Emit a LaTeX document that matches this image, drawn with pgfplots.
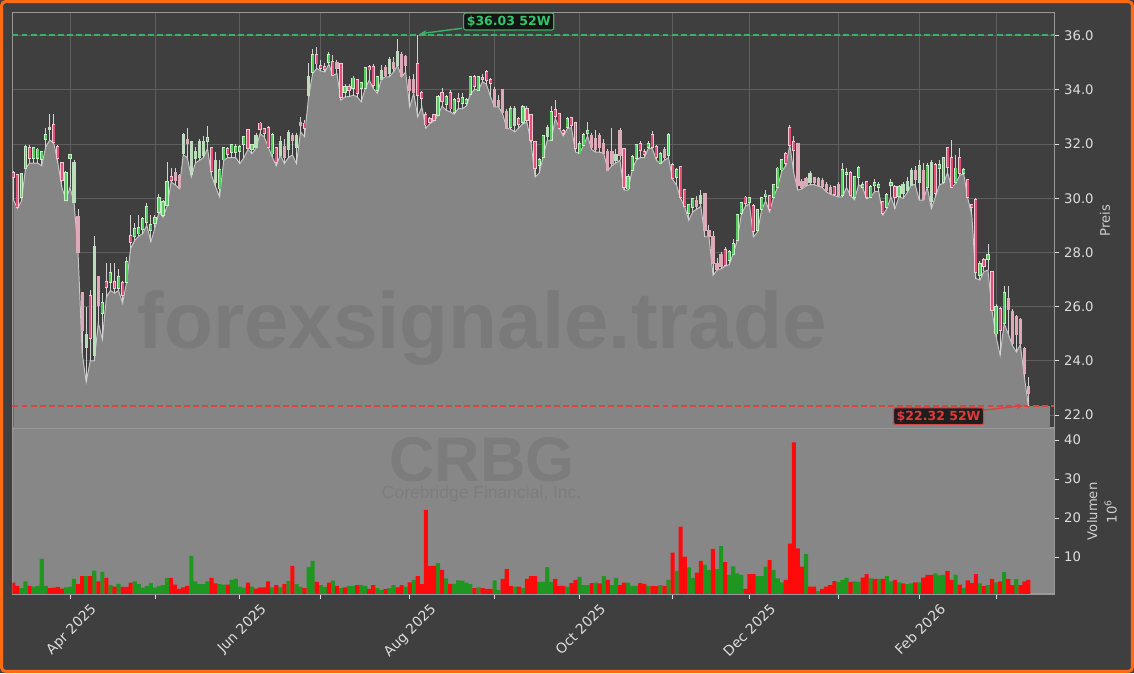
\documentclass[border=0pt]{standalone}
\usepackage{pgfplots}
\pgfplotsset{compat=1.18}
\usepackage{pgfplotstable}
\usepackage{fontspec}
\setmainfont{DejaVu Sans}
\newfontfamily\wmfont{Liberation Sans}
\usetikzlibrary{arrows.meta}

\definecolor{bgc}{HTML}{3F3F3F}
\definecolor{framec}{HTML}{FF6A13}
\definecolor{fillg}{HTML}{858585}
\definecolor{volbg}{HTML}{878787}
\definecolor{gridc}{HTML}{5E5E5E}
\definecolor{spine}{HTML}{999999}
\definecolor{tickc}{HTML}{DEDEDE}
\definecolor{labc}{HTML}{CFCFCF}
\definecolor{upc}{HTML}{55D060}
\definecolor{upo}{HTML}{C8EEC8}
\definecolor{dnc}{HTML}{E2507A}
\definecolor{dno}{HTML}{F4C8D2}
\definecolor{upp}{HTML}{BCDDBC}
\definecolor{dnp}{HTML}{DFAAB8}
\definecolor{wick}{HTML}{D2D2D2}
\definecolor{linec}{HTML}{C6C6C6}
\definecolor{vgreen}{HTML}{1F961F}
\definecolor{vred}{HTML}{FF0A0A}
\definecolor{hic}{HTML}{3FAF68}
\definecolor{hit}{HTML}{35C46E}
\definecolor{loc}{HTML}{D64545}
\definecolor{lot}{HTML}{E03A3A}

\pgfplotstableread{
i t b h l k v g
0 30.95 30.80 31.0 29.95 2 3.4 0
1 30.85 29.67 30.9 29.63 2 2.6 0
2 30.89 30.04 30.95 29.9 1 2.0 1
3 31.9 31.1 31.95 31.1 1 3.7 1
4 31.85 31.5 31.95 31.3 2 2.6 0
5 31.85 31.5 31.9 31.3 1 2.4 1
6 31.8 31.5 31.85 31.3 1 2.6 1
7 31.7 31.44 31.75 31.2 1 9.5 1
8 32.33 32.2 32.6 31.9 1 2.6 1
9 32.6 32.55 33.1 32.15 3 2.0 0
10 32.7 32.07 33.1 32.03 2 2.1 0
11 31.9 31.5 31.95 31.3 2 2.3 0
12 31.3 30.67 31.35 30.4 2 1.9 0
13 30.92 29.93 31.0 29.93 1 2.2 1
14 31.6 31.5 31.65 30.4 1 2.4 1
15 31.3 29.86 31.4 29.86 3 4.35 1
16 29.3 28.02 29.6 27.97 4 3.0 0
17 26.5 25.13 26.5 24.3 4 5.1 0
18 24.95 24.5 26.0 23.22 3 5.1 1
19 26.4 24.83 26.6 24.0 2 5.1 0
20 28.2 24.2 28.6 24.0 3 6.5 1
21 27.1 26.05 27.1 25.4 4 3.7 0
22 26.13 25.77 26.5 24.8 1 6.2 1
23 26.9 26.73 27.6 26.36 2 4.6 0
24 27.24 26.9 27.6 26.6 1 2.8 1
25 26.9 26.7 27.6 26.5 2 2.4 0
26 27.1 26.68 27.4 26.6 1 3.1 1
27 26.86 26.42 26.95 26.13 2 2.3 0
28 27.65 26.9 27.84 26.9 1 2.3 0
29 28.6 28.39 29.38 28.15 2 3.4 0
30 28.86 28.6 29.1 28.45 1 3.7 1
31 28.9 28.7 29.38 28.6 1 3.0 1
32 29.25 28.88 29.3 28.7 1 2.1 1
33 29.68 29.13 29.83 29.0 1 2.6 1
34 29.0 28.82 29.38 28.4 1 3.3 1
35 29.28 29.07 29.4 28.9 1 2.1 1
36 30.0 29.5 30.15 29.5 1 2.6 1
37 29.87 29.38 29.95 29.3 1 2.8 1
38 30.6 29.75 31.34 29.7 1 4.6 1
39 30.78 30.67 31.1 30.6 2 4.6 0
40 30.94 30.67 31.1 30.5 4 2.9 0
41 30.82 30.42 30.9 30.36 4 1.8 0
42 32.33 31.65 32.4 31.6 3 2.2 0
43 32.17 32.04 32.6 31.5 4 2.6 0
44 32.08 30.9 32.1 30.79 3 10.3 1
45 31.71 31.47 31.9 31.3 3 3.7 1
46 32.08 31.53 32.2 31.4 3 3.0 1
47 32.1 31.6 32.3 31.5 3 3.0 1
48 32.22 32.12 32.66 31.84 1 3.7 1
49 31.87 31.01 31.9 30.85 2 4.6 0
50 31.4 30.6 31.7 30.42 3 3.2 0
51 31.06 30.36 31.4 30.05 1 3.0 1
52 31.84 31.43 31.9 31.4 1 2.9 1
53 31.81 31.63 31.9 31.5 2 2.9 0
54 31.96 31.71 32.0 31.5 1 4.1 1
55 31.9 31.7 32.0 31.5 1 4.35 1
56 31.9 31.75 31.95 31.28 1 2.4 1
57 32.27 32.0 32.3 31.5 1 2.1 1
58 32.51 31.84 32.55 31.8 2 3.4 0
59 31.95 31.8 32.0 31.65 1 2.4 1
60 32.3 31.9 32.4 31.84 3 1.9 0
61 32.76 32.54 32.82 32.39 2 2.2 0
62 32.54 32.39 32.6 32.27 2 2.2 0
63 32.58 31.9 32.65 31.9 2 3.7 0
64 32.33 31.65 32.4 31.53 1 2.2 1
65 31.84 31.34 31.9 31.2 2 2.8 0
66 32.1 31.6 32.3 31.6 3 2.2 1
67 31.9 31.5 32.2 31.28 4 3.0 0
68 32.4 31.8 32.5 31.5 3 3.8 1
69 32.3 32.15 32.4 31.6 4 7.7 0
70 32.3 31.9 32.4 31.28 3 3.0 1
71 32.8 32.7 33.0 32.45 4 2.3 1
72 32.76 32.58 32.9 32.27 2 2.0 0
73 34.48 33.8 35.0 33.74 3 7.4 1
74 35.28 34.66 35.49 34.6 1 9.0 1
75 35.28 34.97 35.59 34.79 2 3.6 0
76 34.89 34.79 35.1 34.7 2 2.8 1
77 34.85 34.78 35.0 34.66 2 2.3 1
78 35.28 35.03 35.4 34.95 1 3.4 0
79 35.03 34.54 35.3 34.54 2 3.9 1
80 35.0 34.8 35.1 34.6 4 2.6 0
81 34.95 33.74 34.95 33.62 2 2.0 1
82 34.09 33.93 34.2 33.74 1 2.2 0
83 34.1 34.0 34.2 33.75 2 2.6 1
84 34.42 34.05 34.5 33.8 1 2.6 1
85 34.36 33.87 34.4 33.75 2 2.8 0
86 34.25 34.05 34.3 33.56 1 2.8 1
87 34.79 34.05 34.85 34.05 1 2.6 1
88 34.85 34.75 34.9 34.36 2 1.8 0
89 34.85 34.17 34.95 34.05 2 2.8 0
90 34.46 33.99 34.5 33.87 1 2.0 1
91 34.7 34.4 34.9 34.4 3 1.5 1
92 34.8 34.55 34.9 34.48 4 1.8 0
93 35.1 34.6 35.2 34.48 3 2.0 1
94 35.0 34.8 35.2 34.66 4 2.8 1
95 35.4 34.91 35.86 34.9 3 2.2 0
96 35.3 34.5 35.4 34.48 4 2.8 0
97 35.2 34.9 35.3 34.66 4 2.4 1
98 34.36 33.99 34.5 33.37 4 3.5 0
99 34.36 33.9 34.6 33.87 4 4.1 1
100 34.94 33.8 36.03 33.0 2 5.1 0
101 33.87 33.7 33.95 33.37 2 3.0 0
102 33.07 32.72 33.2 32.58 2 22.1 0
103 32.92 32.82 33.0 32.76 2 7.7 0
104 33.07 32.88 33.1 32.85 2 7.7 0
105 33.74 33.07 33.8 33.07 1 8.4 1
106 33.87 33.6 34.05 33.4 2 6.7 0
107 33.74 33.47 33.8 33.25 1 4.5 1
108 33.89 33.31 34.0 33.19 2 3.1 0
109 33.62 33.19 33.7 33.1 1 3.1 1
110 33.66 33.6 33.9 33.31 2 4.0 1
111 33.7 33.53 33.9 33.3 1 3.9 1
112 33.62 33.5 33.7 33.4 1 3.4 1
113 34.46 33.84 34.5 33.84 1 3.0 1
114 34.46 34.14 34.55 34.01 2 2.0 0
115 34.46 34.0 34.5 34.0 1 2.2 1
116 34.44 34.4 34.6 34.3 2 2.0 0
117 34.66 34.36 34.73 34.2 2 1.8 0
118 34.38 34.24 34.45 33.74 2 1.8 0
119 34.0 33.4 34.1 33.37 4 4.0 1
120 33.6 33.4 33.8 33.37 4 1.5 1
121 33.99 33.19 34.0 33.1 4 4.4 0
122 33.2 32.6 33.3 32.58 4 6.9 0
123 33.31 32.64 33.4 32.55 1 2.6 0
124 33.3 32.7 33.4 32.45 3 2.4 1
125 32.92 32.73 33.0 32.6 2 2.4 0
126 33.37 32.82 33.45 32.75 1 2.0 1
127 33.31 32.88 33.4 32.8 2 4.4 0
128 33.09 32.14 33.1 32.05 2 5.1 0
129 32.08 31.1 32.1 30.79 2 5.1 0
130 31.41 31.22 31.5 30.92 1 3.6 1
131 32.29 31.53 32.3 31.53 1 3.6 1
132 32.6 32.3 32.7 32.14 3 7.4 1
133 33.19 32.14 33.4 32.14 1 3.6 1
134 33.25 33.03 33.62 32.95 2 4.4 0
135 33.1 32.58 33.15 32.58 2 2.6 0
136 32.48 32.39 32.55 32.3 2 2.6 0
137 32.92 32.64 33.0 32.58 1 2.4 1
138 32.95 32.7 33.0 32.6 2 3.3 0
139 32.78 31.84 32.8 31.71 2 4.1 0
140 32.02 31.65 32.1 31.65 1 4.9 1
141 32.33 31.96 32.4 31.96 1 2.8 1
142 32.48 32.39 32.8 32.3 1 2.8 1
143 32.3 31.9 32.4 31.8 4 3.3 0
144 32.2 31.8 32.5 31.7 4 3.4 1
145 32.3 31.9 32.4 31.7 4 3.2 0
146 32.0 31.65 32.2 31.65 4 5.1 1
147 31.7 31.04 31.8 31.04 4 4.1 0
148 31.7 31.3 32.58 31.2 4 2.8 1
149 31.6 31.4 31.8 31.3 3 4.6 1
150 32.5 31.6 32.6 31.4 4 2.8 0
151 31.81 30.4 31.85 30.3 2 3.4 0
152 30.79 30.36 30.9 30.3 1 3.4 1
153 31.53 31.04 31.6 31.04 1 2.6 1
154 31.96 31.47 32.0 31.41 1 2.6 1
155 32.02 31.77 32.1 31.5 2 3.3 0
156 31.71 31.63 31.8 31.5 2 3.1 0
157 32.02 31.9 32.1 31.84 1 2.6 1
158 32.35 31.9 32.49 31.84 2 2.5 0
159 31.9 31.53 31.95 31.4 2 2.5 0
160 31.62 31.3 31.7 31.28 1 2.8 1
161 31.8 31.5 31.9 31.4 4 2.6 0
162 32.33 31.59 32.4 31.5 1 4.1 1
163 31.22 30.73 31.3 30.7 2 11.1 0
164 31.04 30.79 31.1 30.48 1 6.4 1
165 31.16 30.05 31.2 29.99 2 17.8 0
166 30.3 29.71 30.35 29.68 2 10.1 0
167 29.75 29.44 29.8 29.19 1 7.3 1
168 29.96 29.68 30.0 29.5 1 4.6 1
169 29.9 29.7 30.1 29.6 4 6.0 0
170 30.1 29.8 30.32 29.7 3 9.0 0
171 30.18 28.82 30.2 28.58 4 8.0 1
172 28.8 28.6 29.0 28.58 4 6.7 1
173 28.58 27.59 28.8 27.16 4 12.1 0
174 27.6 27.4 27.8 27.35 4 6.9 1
175 27.9 27.5 28.0 27.4 4 12.8 1
176 28.08 27.53 28.2 27.5 2 8.7 0
177 28.02 27.72 28.1 27.55 1 5.4 1
178 28.33 27.96 28.5 27.96 1 7.6 1
179 29.38 28.45 29.4 28.45 1 5.8 1
180 29.81 29.46 29.85 29.4 1 5.4 1
181 30.03 29.81 30.1 29.7 2 1.8 0
182 30.0 29.85 30.05 29.8 1 5.6 0
183 29.71 28.8 29.8 28.58 2 5.6 0
184 29.56 28.82 29.6 28.75 1 5.1 1
185 30.0 29.6 30.05 29.56 1 5.1 1
186 30.14 30.09 30.3 29.9 1 7.5 1
187 30.08 29.59 30.1 29.5 2 9.2 0
188 30.48 30.05 30.5 30.05 1 6.7 1
189 31.1 30.42 31.15 30.42 1 4.5 1
190 31.41 31.06 31.45 31.0 1 3.5 1
191 31.63 31.3 31.7 31.2 2 4.1 0
192 32.58 31.96 32.7 31.96 2 13.4 0
193 32.08 31.77 32.3 30.92 2 39.4 0
194 32.0 30.5 32.0 30.3 4 12.2 0
195 30.6 30.4 30.7 30.35 4 7.5 0
196 30.7 30.5 30.8 30.45 4 10.8 1
197 30.9 30.6 31.0 30.5 3 2.4 0
198 30.75 30.6 30.8 30.5 4 2.4 0
199 30.7 30.5 30.8 30.45 4 1.3 1
200 30.65 30.45 30.75 30.4 4 1.8 0
201 30.5 30.3 30.6 30.24 4 2.4 0
202 30.4 30.2 30.5 30.15 4 2.8 0
203 30.4 30.15 30.45 30.1 2 3.8 0
204 30.5 30.1 30.6 30.05 4 3.6 1
205 31.06 30.11 31.3 30.05 1 4.1 1
206 30.95 30.9 31.1 30.4 1 4.6 1
207 30.92 30.11 31.0 30.1 2 3.6 0
208 30.77 30.05 30.8 29.95 1 3.7 1
209 31.1 30.79 31.2 30.5 1 3.6 1
210 30.5 30.42 30.6 30.4 1 4.7 0
211 30.6 30.05 30.65 29.98 2 5.6 0
212 30.4 30.05 30.5 30.05 1 4.5 1
213 30.55 30.48 30.7 30.25 1 4.4 0
214 30.5 30.42 30.6 30.25 1 4.4 1
215 29.87 29.44 29.9 29.38 2 4.4 0
216 30.11 29.68 30.2 29.62 1 5.1 1
217 30.55 30.48 30.7 30.05 1 3.7 1
218 30.4 30.05 30.5 29.62 2 4.1 0
219 30.4 30.1 30.5 30.05 1 3.5 1
220 30.5 30.2 30.6 30.0 3 3.2 0
221 30.6 30.3 30.8 30.2 3 3.0 1
222 31.0 30.5 31.1 30.5 3 3.2 1
223 31.0 30.7 31.2 30.5 4 3.5 0
224 31.2 30.6 31.4 29.93 3 3.5 1
225 31.0 29.95 31.3 29.93 4 4.7 0
226 31.2 30.4 31.3 30.4 1 5.4 0
227 31.3 29.9 31.4 29.62 3 5.4 0
228 31.22 30.18 31.3 30.05 2 5.8 1
229 31.22 31.1 31.4 30.5 1 5.3 1
230 31.47 30.6 31.5 30.55 1 5.4 1
231 31.84 31.16 31.9 30.95 2 6.4 0
232 31.47 30.42 32.14 30.4 2 4.1 0
233 31.1 30.6 31.6 30.55 1 5.4 1
234 31.47 30.92 31.84 30.85 2 2.9 0
235 31.04 30.94 31.1 30.9 1 2.0 1
236 30.67 30.05 30.7 30.0 2 4.0 0
237 29.75 29.66 29.8 29.38 2 3.3 0
238 29.93 27.28 30.0 27.04 2 5.6 0
239 27.57 27.16 27.7 26.98 1 3.2 1
240 27.72 27.5 27.8 27.3 2 2.5 0
241 27.9 27.75 28.33 27.35 1 2.8 1
242 27.28 25.87 27.3 25.85 2 4.4 0
243 26.0 25.01 26.1 24.9 1 3.5 1
244 25.93 25.13 26.0 24.21 2 3.7 0
245 26.49 25.38 26.76 25.38 1 6.1 1
246 26.3 25.9 26.76 25.0 4 4.4 0
247 25.8 24.64 25.9 24.58 4 2.8 0
248 25.62 25.0 25.7 24.33 4 4.3 1
249 25.5 24.64 25.6 24.6 4 2.8 0
250 24.46 23.54 24.5 23.4 4 3.7 0
251 23.04 22.8 23.41 22.32 4 4.1 0
}\data

\pgfplotsset{
  ebonly/.style={only marks, mark=*, mark size=0pt, mark options={draw=none, fill=none}, forget plot},
  wickbar/.style={ebonly,
    error bars/.cd, y dir=both, y explicit, error mark=none,
    error bar style={draw=wick, line width=0.7pt}},
  bodyout/.style 2 args={ebonly, restrict expr to domain={\thisrow{k}}{#1},
    error bars/.cd, y dir=both, y explicit, error mark=none,
    error bar style={draw=#2, line width=2.3pt}},
  bodyin/.style 2 args={ebonly, restrict expr to domain={\thisrow{k}}{#1},
    error bars/.cd, y dir=both, y explicit, error mark=none,
    error bar style={draw=#2, line width=1.4pt}},
}

\begin{document}
\begin{tikzpicture}
\path[use as bounding box] (0,0) rectangle (816.48pt,484.56pt);
\fill[bgc] (0,0) rectangle (816.48pt,484.56pt);
\draw[framec, line width=2.2pt, rounded corners=3pt] (1.1pt,1.1pt) rectangle (815.38pt,483.46pt);

% ---------------- price panel ----------------
\begin{axis}[
  scale only axis, anchor=south west, at={(9pt,176.5pt)},
  width=750.1pt, height=298.8pt,
  xmin=-0.22, xmax=257.4, ymin=21.53, ymax=36.84,
  axis background/.style={fill=bgc},
  axis line style={spine, line width=0.8pt},
  xtick={14,35,56,76,98,119,140,163,182,204,224,243},
  xticklabels={},
  xtick style={draw=none},
  ytick={22,24,26,28,30,32,34,36},
  ytick pos=right, yticklabel pos=right,
  tick align=outside,
  major tick length=3.6pt,
  ytick style={tickc, line width=0.6pt},
  /pgf/number format/assume math mode=true,
  y tick label style={/pgf/number format/fixed, /pgf/number format/fixed zerofill, /pgf/number format/precision=1},
  ticklabel style={font=\fontsize{9.5}{11}\selectfont, text=tickc},
  grid=major, grid style={gridc, line width=0.6pt},
  ylabel={Preis},
  ylabel style={at={(rel axis cs:1,0.5)}, anchor=center, yshift=-36.5pt, font=\fontsize{9.5}{11}\selectfont, text=labc},
]
\addplot[fill=fillg, draw=none, forget plot] table[x=i, y=l] {\data} \closedcycle;
\addplot[fill=fillg, draw=none, forget plot] coordinates {(251,22.32) (256.4,22.32)} \closedcycle;
\addplot[linec, line width=0.7pt, forget plot] table[x=i, y=l] {\data};

\node[font=\wmfont\bfseries\fontsize{57.6}{60}\selectfont, text=black, text opacity=0.08, anchor=base, inner sep=0pt] at (axis cs:115.9,24.47) {forexsignale.trade};

\addplot[hic, line width=1.4pt, dash pattern=on 4.3pt off 2.2pt, forget plot] coordinates {(-0.22,36.03) (257.4,36.03)};
\addplot[loc, line width=1.4pt, dash pattern=on 4.3pt off 2.2pt, forget plot] coordinates {(-0.22,22.32) (257.4,22.32)};

% wicks
\addplot[wickbar] table[x=i, y expr={(\thisrow{h}+\thisrow{l})/2}, y error expr={(\thisrow{h}-\thisrow{l})/2}] {\data};
% bodies
\addplot[bodyout={0.5:1.5}{upo}] table[x=i, y expr={(\thisrow{t}+\thisrow{b})/2}, y error expr={(\thisrow{t}-\thisrow{b})/2+0.035}] {\data};
\addplot[bodyin={0.5:1.5}{upc}] table[x=i, y expr={(\thisrow{t}+\thisrow{b})/2}, y error expr={max((\thisrow{t}-\thisrow{b})/2,0.015)}] {\data};
\addplot[bodyout={1.5:2.5}{dno}] table[x=i, y expr={(\thisrow{t}+\thisrow{b})/2}, y error expr={(\thisrow{t}-\thisrow{b})/2+0.035}] {\data};
\addplot[bodyin={1.5:2.5}{dnc}] table[x=i, y expr={(\thisrow{t}+\thisrow{b})/2}, y error expr={max((\thisrow{t}-\thisrow{b})/2,0.015)}] {\data};
\addplot[bodyout={2.5:3.5}{upp}] table[x=i, y expr={(\thisrow{t}+\thisrow{b})/2}, y error expr={(\thisrow{t}-\thisrow{b})/2+0.03}] {\data};
\addplot[bodyout={3.5:4.5}{dnp}] table[x=i, y expr={(\thisrow{t}+\thisrow{b})/2}, y error expr={(\thisrow{t}-\thisrow{b})/2+0.03}] {\data};

% annotations
\node[anchor=west, fill=black!80!bgc, fill opacity=0.85, text opacity=1, draw=hic, line width=0.8pt, rounded corners=1.5pt, inner xsep=2.3pt, inner ysep=2pt, text=hit, font=\bfseries\fontsize{9}{10}\selectfont] at (axis cs:111.2,36.52) {\$36.03 52W};
\draw[hic, line width=1pt, -{Stealth[length=5pt,width=4pt]}] (axis cs:110.9,36.27) -- (axis cs:100.5,36.07);
\node[anchor=west, fill=black!80!bgc, fill opacity=0.85, text opacity=1, draw=loc, line width=0.8pt, rounded corners=1.5pt, inner xsep=2.3pt, inner ysep=2pt, text=lot, font=\bfseries\fontsize{9}{10}\selectfont] at (axis cs:217.5,21.96) {\$22.32 52W};
\draw[loc, line width=1pt, -{Stealth[length=5pt,width=4pt]}] (axis cs:239.7,22.18) -- (axis cs:249.8,22.35);
\end{axis}

% ---------------- volume panel ----------------
\begin{axis}[
  scale only axis, anchor=south west, at={(9pt,56.9pt)},
  width=750.1pt, height=119pt,
  xmin=-0.22, xmax=257.4, ymin=0.5, ymax=42.9,
  axis background/.style={fill=volbg},
  axis line style={spine, line width=0.8pt},
  xtick={14,35,56,76,98,119,140,163,182,204,224,243},
  xticklabels={Apr 2025,,Jun 2025,,Aug 2025,,Oct 2025,,Dec 2025,,Feb 2026,},
  xtick pos=bottom,
  ytick={10,20,30,40},
  ytick pos=right, yticklabel pos=right,
  tick align=outside,
  major tick length=3.6pt,
  tick style={tickc, line width=0.6pt},
  /pgf/number format/assume math mode=true,
  ticklabel style={font=\fontsize{9.5}{11}\selectfont, text=tickc},
  x tick label style={rotate=45, anchor=north east, inner sep=0pt, xshift=8.2pt, yshift=-11.8pt, font=\fontsize{10}{12}\selectfont},
  ylabel={Volumen\\10\textsuperscript{6}},
  ylabel style={at={(rel axis cs:1,0.5)}, anchor=center, yshift=-34.3pt, align=center, font=\fontsize{9.5}{14}\selectfont, text=labc},
]
\node[font=\wmfont\bfseries\fontsize{45.4}{48}\selectfont, text=black, text opacity=0.08, anchor=base, inner sep=0pt] at (axis cs:115.9,29.3) {CRBG};
\node[font=\wmfont\fontsize{12.6}{14}\selectfont, text=black, text opacity=0.07, anchor=base, inner sep=0pt] at (axis cs:115.8,25.0) {Corebridge Financial, Inc.};
\addplot[ybar, bar width=1.02, bar shift=0pt, fill=vgreen, draw=none, restrict expr to domain={\thisrow{g}}{0.5:1.5}] table[x=i, y=v] {\data};
\addplot[ybar, bar width=1.02, bar shift=0pt, fill=vred, draw=none, restrict expr to domain={\thisrow{g}}{-0.5:0.5}] table[x=i, y=v] {\data};
\end{axis}
\end{tikzpicture}
\end{document}
